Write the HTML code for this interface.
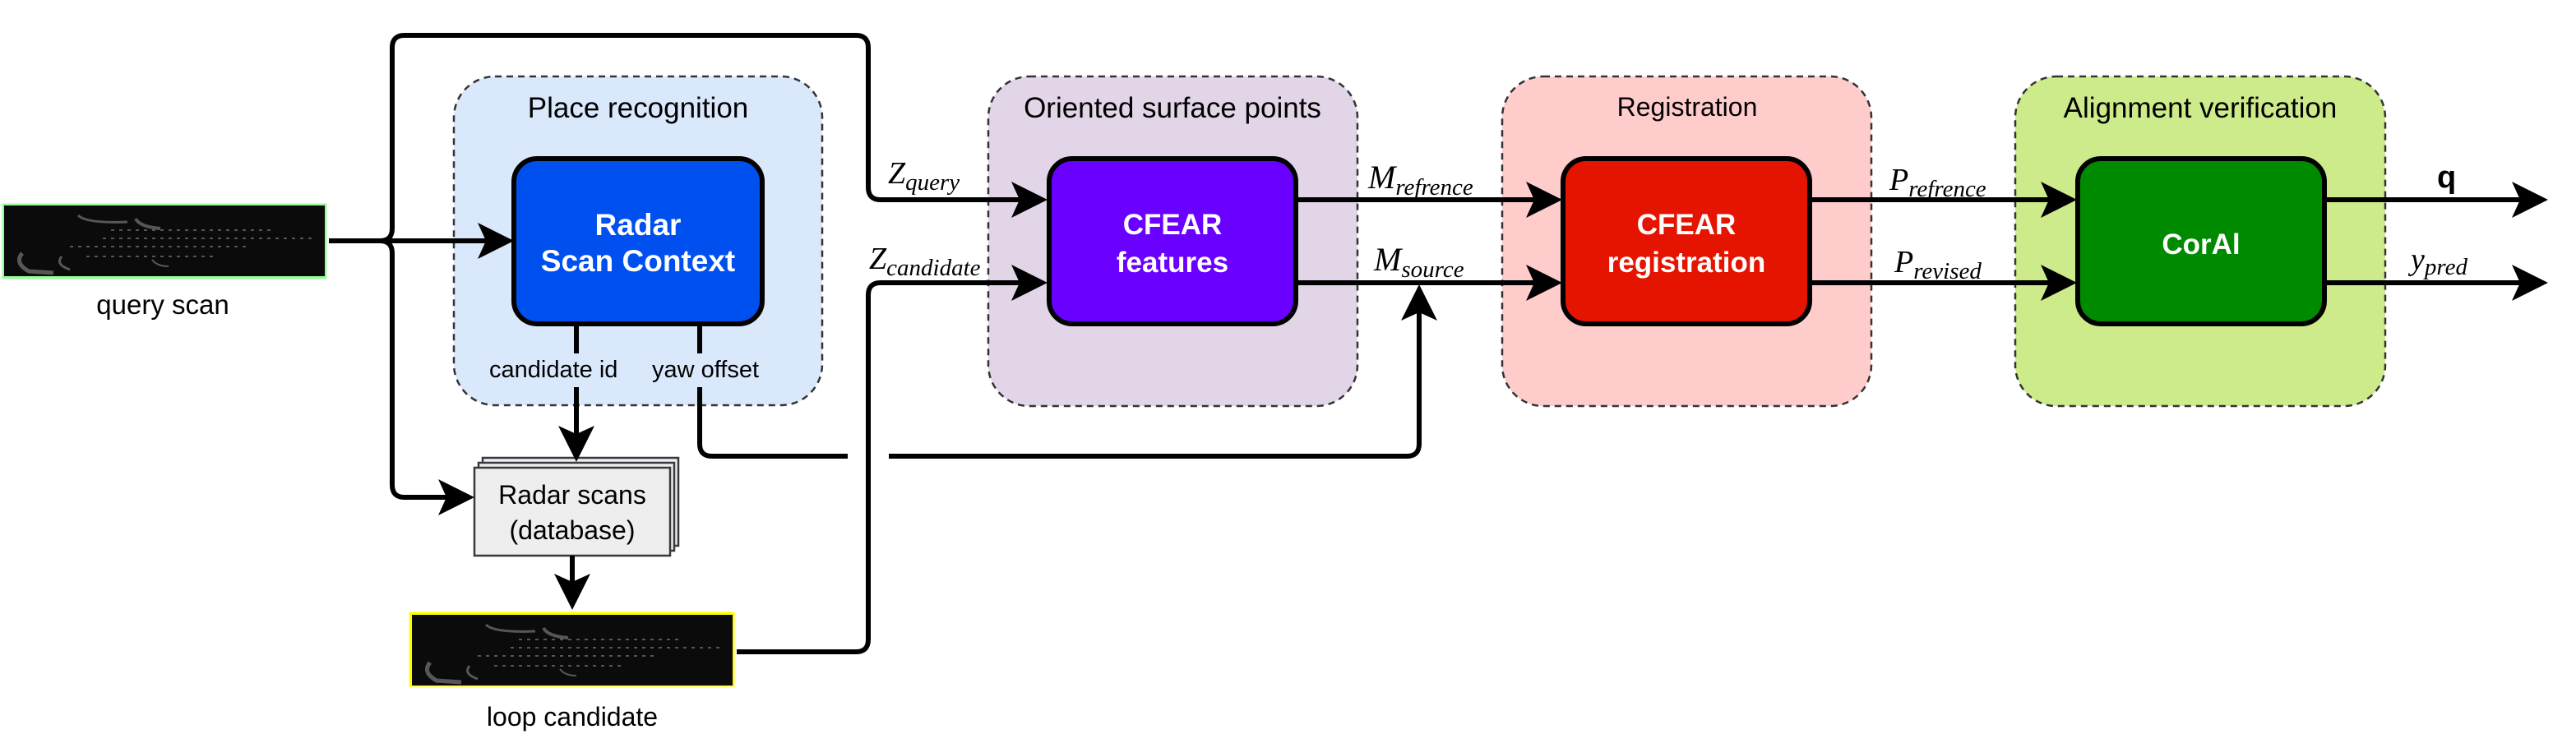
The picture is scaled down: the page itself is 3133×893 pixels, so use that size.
<!DOCTYPE html>
<html><head><meta charset="utf-8"><style>
html,body{margin:0;padding:0;background:#fff;}
svg{display:block;}
text{font-family:"Liberation Sans",sans-serif;}
.m{font-family:"Liberation Serif",serif;font-style:italic;}
</style></head><body>
<svg width="3133" height="893" viewBox="0 0 3133 893" xmlns="http://www.w3.org/2000/svg">
<defs>
<marker id="a" viewBox="0 0 44 44" refX="32" refY="22" markerWidth="44" markerHeight="44" markerUnits="userSpaceOnUse" orient="auto">
<path d="M0,0 L44,22 L0,44 L10,22 Z" fill="#000"/>
</marker>
<g id="radar">
<rect x="0" y="0" width="390" height="86" fill="#0b0b0b"/>
<g fill="none" stroke="#777" stroke-opacity="0.7">
<path d="M22,58 Q12,70 30,80 L60,82" stroke-width="5"/>
<path d="M70,62 Q62,72 80,78" stroke-width="3"/>
<path d="M160,16 Q165,26 190,28" stroke-width="4"/>
<path d="M90,12 Q100,22 150,20" stroke-width="3"/>
<path d="M180,66 Q186,74 200,74" stroke-width="2"/>
</g>
<g stroke="#555" stroke-width="2" stroke-dasharray="4,6">
<path d="M120,40 H380"/><path d="M80,50 H300"/><path d="M130,30 H330"/><path d="M100,62 H260"/>
</g>
</g>
</defs>

<rect x="552" y="93" width="448" height="400" rx="50" fill="#dae8fc" stroke="#333" stroke-width="2.5" stroke-dasharray="8,6"/>
<rect x="1202" y="93" width="449" height="401" rx="50" fill="#e1d5e7" stroke="#333" stroke-width="2.5" stroke-dasharray="8,6"/>
<rect x="1827" y="93" width="449" height="401" rx="50" fill="#ffcccc" stroke="#333" stroke-width="2.5" stroke-dasharray="8,6"/>
<rect x="2451" y="93" width="450" height="401" rx="50" fill="#cdeb8b" stroke="#333" stroke-width="2.5" stroke-dasharray="8,6"/>

<text x="776" y="143" font-size="35" text-anchor="middle">Place recognition</text>
<text x="1426" y="143" font-size="35" text-anchor="middle">Oriented surface points</text>
<text x="2052" y="141" font-size="32" text-anchor="middle">Registration</text>
<text x="2676" y="143" font-size="35" text-anchor="middle">Alignment verification</text>

<rect x="625" y="193" width="302" height="201" rx="28" fill="#0050ef" stroke="#000" stroke-width="6"/>
<text x="776" y="286" font-size="37" font-weight="bold" fill="#fff" text-anchor="middle">Radar</text>
<text x="776" y="330" font-size="37" font-weight="bold" fill="#fff" text-anchor="middle">Scan Context</text>

<rect x="1276" y="193" width="300" height="201" rx="28" fill="#6a00ff" stroke="#000" stroke-width="6"/>
<text x="1426" y="285" font-size="35" font-weight="bold" fill="#fff" text-anchor="middle">CFEAR</text>
<text x="1426" y="331" font-size="35" font-weight="bold" fill="#fff" text-anchor="middle">features</text>

<rect x="1901" y="193" width="300" height="201" rx="28" fill="#e51400" stroke="#000" stroke-width="6"/>
<text x="2051" y="285" font-size="35" font-weight="bold" fill="#fff" text-anchor="middle">CFEAR</text>
<text x="2051" y="331" font-size="35" font-weight="bold" fill="#fff" text-anchor="middle">registration</text>

<rect x="2527" y="193" width="300" height="201" rx="28" fill="#008a00" stroke="#000" stroke-width="6"/>
<text x="2677" y="309" font-size="35" font-weight="bold" fill="#fff" text-anchor="middle">CorAl</text>

<rect x="587" y="557" width="238" height="107" fill="#eee" stroke="#36393d" stroke-width="2.5"/>
<rect x="582" y="563" width="238" height="107" fill="#eee" stroke="#36393d" stroke-width="2.5"/>
<rect x="577" y="569" width="238" height="107" fill="#eee" stroke="#36393d" stroke-width="2.5"/>
<text x="696" y="613" font-size="32" text-anchor="middle">Radar scans</text>
<text x="696" y="656" font-size="32" text-anchor="middle">(database)</text>

<rect x="2.5" y="247.5" width="395" height="92" fill="#98fb98"/>
<use href="#radar" x="5" y="250"/>
<rect x="497.5" y="744.5" width="396" height="91" fill="#ffff00"/>
<use href="#radar" x="501" y="748"/>
<text x="198" y="382" font-size="33" text-anchor="middle">query scan</text>
<text x="696" y="883" font-size="32" text-anchor="middle">loop candidate</text>

<g fill="none" stroke="#000" stroke-width="6">
<path d="M400,293 H462 Q477,293 477,278 V58 Q477,43 492,43 H1041 Q1056,43 1056,58 V228 Q1056,243 1071,243 H1262" marker-end="url(#a)"/>
<path d="M400,293 H613" marker-end="url(#a)"/>
<path d="M462,293 Q477,293 477,308 V590 Q477,605 492,605 H565" marker-end="url(#a)"/>
<path d="M701,394 V430"/>
<path d="M701,471 V550" marker-end="url(#a)"/>
<path d="M851,394 V430"/>
<path d="M851,471 V540 Q851,555 866,555 H1031"/>
<path d="M1081,555 H1711 Q1726,555 1726,540 V358" marker-end="url(#a)"/>
<path d="M696,676 V730" marker-end="url(#a)"/>
<path d="M896,793 H1041 Q1056,793 1056,778 V359 Q1056,344 1071,344 H1262" marker-end="url(#a)"/>
<path d="M1576,243 H1888" marker-end="url(#a)"/>
<path d="M1576,344 H1888" marker-end="url(#a)"/>
<path d="M2201,243 H2514" marker-end="url(#a)"/>
<path d="M2201,344 H2514" marker-end="url(#a)"/>
<path d="M2827,243 H3087" marker-end="url(#a)"/>
<path d="M2827,344 H3087" marker-end="url(#a)"/>
</g>

<text x="595" y="459" font-size="29">candidate id</text>
<text x="793" y="459" font-size="29">yaw offset</text>

<text class="m" x="1080" y="223" font-size="38">Z<tspan font-size="29" dy="8">query</tspan></text>
<text class="m" x="1057" y="327" font-size="38">Z<tspan font-size="29" dy="8">candidate</tspan></text>
<text class="m" x="1664" y="229" font-size="40">M<tspan font-size="29" dy="8">refrence</tspan></text>
<text class="m" x="1671" y="329" font-size="40">M<tspan font-size="29" dy="8">source</tspan></text>
<text class="m" x="2298" y="231" font-size="38">P<tspan font-size="29" dy="8">refrence</tspan></text>
<text class="m" x="2304" y="331" font-size="38">P<tspan font-size="29" dy="8">revised</tspan></text>
<text x="2964" y="228" font-size="38" font-weight="bold" font-family="Liberation Serif, serif">q</text>
<text class="m" x="2932" y="328" font-size="38">y<tspan font-size="29" dy="6">pred</tspan></text>
</svg>
</body></html>
